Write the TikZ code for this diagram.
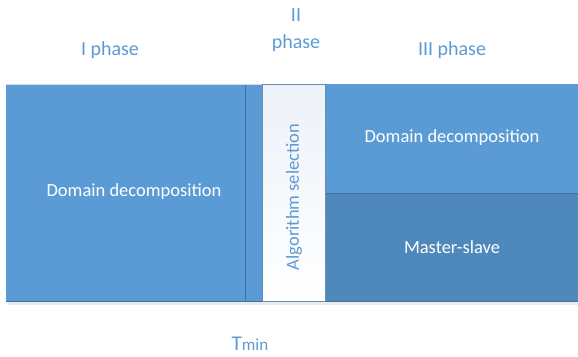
\documentclass[tikz,border=0pt]{standalone}
\usepackage{fontspec}
\setmainfont{Carlito}
\definecolor{mainblue}{HTML}{5B9BD5}
\definecolor{darkblue}{HTML}{4F88BB}
\definecolor{edgeblue}{HTML}{41719C}
\definecolor{txtblue}{HTML}{5B9BD5}
\definecolor{paleblue}{HTML}{EDF1F9}
\tikzset{
  blk/.style={draw=none, fill=mainblue, inner sep=0pt, outer sep=0pt},
  lbl/.style={text=txtblue, font=\fontsize{20}{27}\selectfont, align=center},
  intxt/.style={text=white, font=\fontsize{18.5}{22}\selectfont},
}
\begin{document}
\begin{tikzpicture}[x=1pt,y=-1pt]
\useasboundingbox (0,0) rectangle (578,356);
% shadows
\fill[black!8] (8,302) rectangle (578,305);
% boxes
\node[blk, minimum width=256pt, minimum height=217pt, anchor=north west] (left) at (6,84) {};
\node[blk, minimum width=253pt, minimum height=109pt, anchor=north west] (rtop) at (325,84) {};
\node[blk, fill=darkblue, draw=edgeblue, line width=0.8pt, minimum width=253pt, minimum height=108pt, anchor=north west] (rbot) at (325,193) {};
\node[anchor=north west, inner sep=0pt, outer sep=0pt, minimum width=63pt, minimum height=217pt, top color=paleblue, bottom color=white, draw=edgeblue!80, line width=0.8pt] (alg) at (262,84) {};
\coordinate (lt) at (245,84);
\coordinate (lb) at (245,301);
\draw[edgeblue, line width=0.8pt] (lt) -- (lb);
\draw[black!15, line width=0.6pt] (left.north west) -- (left.north east);
\draw[edgeblue, line width=0.6pt] (left.south west) -- (left.south east);
% labels
\node[lbl] (p1) at (110,50) {I phase};
\node[lbl] (p2) at (296,30) {II\\phase};
\node[lbl] (p3) at (452,50) {III phase};
\node[intxt] (t1) at (134,192) {Domain decomposition};
\node[intxt] (t2) at (452,138) {Domain decomposition};
\node[intxt] (t3) at (452,247) {Master-slave};
\node[text=txtblue, font=\fontsize{18.5}{22}\selectfont, rotate=90] (t4) at (294,197) {Algorithm selection};
\node[text=txtblue, font=\fontsize{21}{24}\selectfont] (tmin) at (250,344) {T\fontsize{17}{20}\selectfont min};
\end{tikzpicture}
\end{document}
